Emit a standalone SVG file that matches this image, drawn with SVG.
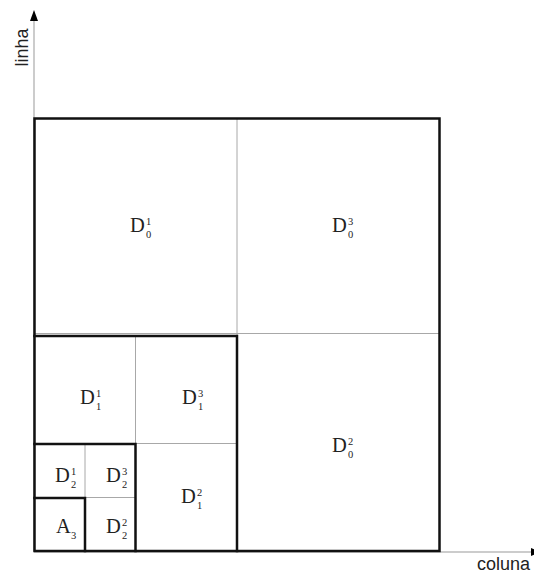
<svg xmlns="http://www.w3.org/2000/svg" width="534" height="574" viewBox="0 0 534 574">
<style>
.thick{fill:none;stroke:#111;stroke-width:2.5;stroke-linecap:square}
.thin{fill:none;stroke:#a8a8a8;stroke-width:1}
.axis{fill:none;stroke:#999;stroke-width:1}
.head{fill:#000}
.lab{font-family:"Liberation Serif","Times New Roman",serif;font-size:20.5px;fill:#222}
.scr{font-family:"Liberation Serif","Times New Roman",serif;font-size:10.5px;fill:#222}
.ax{font-family:"Liberation Sans",Arial,sans-serif;font-size:18px;fill:#222}
</style>
<rect width="534" height="574" fill="#fff"/>
<g id="axes">
<line class="axis" x1="34" y1="551" x2="34" y2="18"/>
<polygon class="head" points="34,10 30,21 38,21"/>
<line class="axis" x1="34" y1="552" x2="532" y2="552"/>
<polygon class="head" points="531,548 541,552 531,556"/>
<text class="ax" transform="translate(27.5,47.5) rotate(-90)" text-anchor="middle">linha</text>
<text class="ax" x="477" y="570">coluna</text>
</g>
<g id="connectors">
<line class="thin" x1="237" y1="118" x2="237" y2="335"/>
<line class="thin" x1="34" y1="333.5" x2="440" y2="333.5"/>
<line class="thin" x1="135.5" y1="335" x2="135.5" y2="443.5"/>
<line class="thin" x1="135.5" y1="443.5" x2="237" y2="443.5"/>
<line class="thin" x1="85" y1="443.5" x2="85" y2="497.5"/>
<line class="thin" x1="85" y1="497.5" x2="135.5" y2="497.5"/>
<rect class="thick" x="34.5" y="118.5" width="405" height="432.5"/>
<path class="thick" d="M34.5,336 H237 V551"/>
<path class="thick" d="M34.5,444 H135.5 V551"/>
<path class="thick" d="M34.5,498 H85 V551"/>
</g>
<g id="D0_1"><text class="lab" x="130" y="232">D</text><text class="scr" x="146" y="225">1</text><text class="scr" x="146" y="238">0</text></g>
<g id="D0_3"><text class="lab" x="332" y="232">D</text><text class="scr" x="348" y="225">3</text><text class="scr" x="348" y="238">0</text></g>
<g id="D0_2"><text class="lab" x="332" y="452">D</text><text class="scr" x="348" y="445">2</text><text class="scr" x="348" y="458">0</text></g>
<g id="D1_1"><text class="lab" x="80" y="404">D</text><text class="scr" x="96" y="397">1</text><text class="scr" x="96" y="410">1</text></g>
<g id="D1_3"><text class="lab" x="182" y="404">D</text><text class="scr" x="198" y="397">3</text><text class="scr" x="198" y="410">1</text></g>
<g id="D1_2"><text class="lab" x="181" y="503">D</text><text class="scr" x="197" y="496">2</text><text class="scr" x="197" y="509">1</text></g>
<g id="D2_1"><text class="lab" x="55" y="482">D</text><text class="scr" x="71" y="475">1</text><text class="scr" x="71" y="488">2</text></g>
<g id="D2_3"><text class="lab" x="106" y="482">D</text><text class="scr" x="122" y="475">3</text><text class="scr" x="122" y="488">2</text></g>
<g id="D2_2"><text class="lab" x="106" y="533">D</text><text class="scr" x="122" y="526">2</text><text class="scr" x="122" y="539">2</text></g>
<g id="A3"><text class="lab" x="56" y="533">A</text><text class="scr" x="71" y="539">3</text></g>
</svg>
